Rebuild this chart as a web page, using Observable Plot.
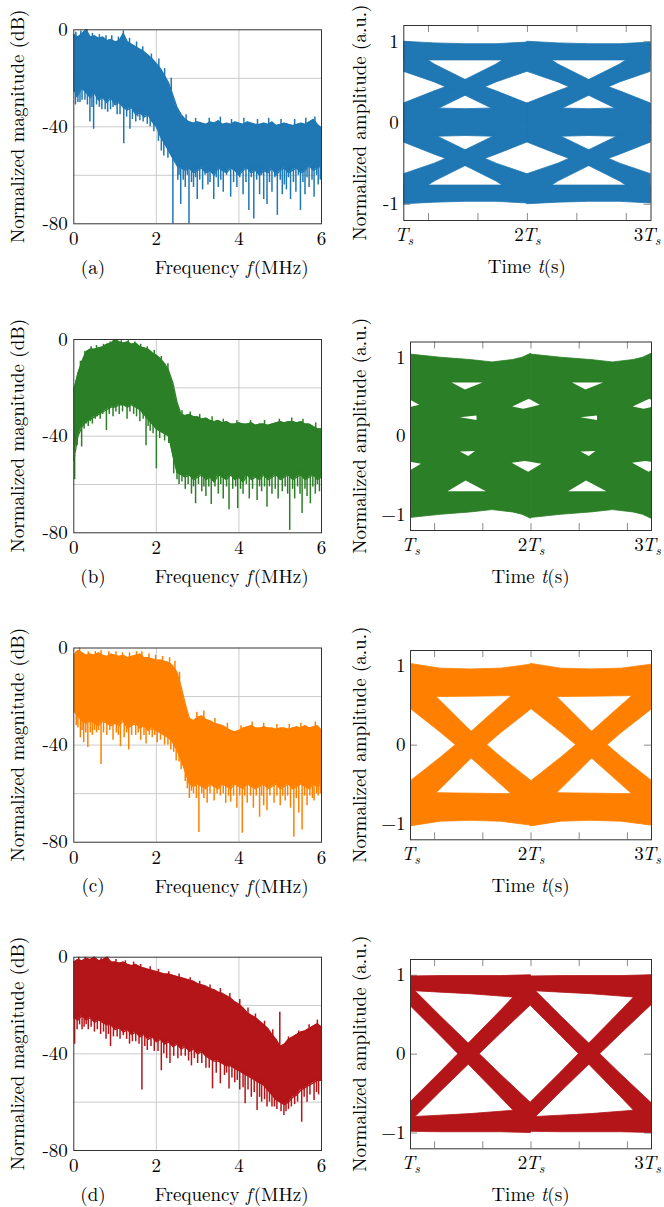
<!DOCTYPE html>
<html><head><meta charset="utf-8">
<script src="https://cdn.jsdelivr.net/npm/d3@7"></script>
<script src="https://cdn.jsdelivr.net/npm/@observablehq/plot@0.6"></script>
<style>
body{margin:0;background:#fff;}
#fig{position:relative;width:664px;height:1207px;overflow:hidden;background:#fff;}
#fig svg{position:absolute;left:0;top:0;}
#fig svg, #fig svg text, #fig svg tspan{font-family:"Latin Modern Roman","Liberation Serif",serif !important;}
</style></head><body><div id="fig"></div>
<script>
// ---------- tick values / labels ----------
const specXTicks = [0, 2, 4, 6];
const specYTicks = [0, -40, -80];
const specXGrid = [2, 4];
const specYGrid = [-20, -40, -60];
const eyeXTicks = [1, 2, 3];
const eyeXTickLabels = ["Ts", "2Ts", "3Ts"];
const eyeMinorTicks = [1.2, 1.6, 2, 2.4, 2.8];
const eyeYTicks = [-1, 0, 1];
const panelLabels = ["(a)", "(b)", "(c)", "(d)"];
const colors = ["#1f77b4", "#2b7f26", "#ff8000", "#b31518"];

// ---------- spectra (dB), frequency in MHz ----------
const freq = [0,0.1,0.2,0.3,0.4,0.5,0.6,0.7,0.8,0.9,1,1.1,1.2,1.3,1.4,1.5,1.6,1.7,1.8,1.9,2,2.1,2.2,2.3,2.4,2.5,2.6,2.7,2.8,2.9,3,3.1,3.2,3.3,3.4,3.5,3.6,3.7,3.8,3.9,4,4.1,4.2,4.3,4.4,4.5,4.6,4.7,4.8,4.9,5,5.1,5.2,5.3,5.4,5.5,5.6,5.7,5.8,5.9,6];

const topA = [-2,-3,-1.5,0,-3,-2.5,-3.5,-3,-4.5,-4,-5,-4.5,-1.5,-5,-6,-7,-8,-9,-10.5,-12,-14,-16,-19,-22,-27,-32,-35,-37,-38,-38.5,-38,-38.5,-39,-38,-38.5,-37.5,-39,-38.5,-39,-38,-38.5,-39,-38,-38.5,-39,-39,-38.5,-39,-38,-39.5,-39,-38.5,-39,-39.5,-39,-38.5,-39,-38,-37,-39,-40.5];
const botA = [-25,-27,-24,-26,-28,-26,-29,-28,-30,-28,-31,-30,-32,-33,-32,-35,-34,-36,-35,-38,-40,-44,-47,-50,-53,-56,-57,-58,-57,-59,-58,-57,-59,-58,-60,-57,-58,-59,-57,-58,-60,-58,-57,-59,-58,-60,-58,-59,-57,-60,-58,-57,-59,-58,-57,-59,-58,-56,-58,-57,-56];
const dipsA = [[0.04,-31],[0.07,-28],[0.1,-30],[0.15,-30],[0.2,-29],[0.27,-29],[0.33,-31],[0.39,-38],[0.44,-32],[0.48,-41],[0.55,-31],[0.62,-32],[0.68,-33],[0.76,-33],[0.82,-34],[0.89,-33],[0.95,-32],[1.05,-35],[1.12,-35],[1.21,-47],[1.28,-36],[1.36,-41],[1.42,-37],[1.5,-38],[1.55,-36],[1.6,-37.5],[1.68,-38],[1.78,-39],[1.85,-40],[1.94,-42],[2.05,-46],[2.12,-50],[2.18,-52],[2.28,-53],[2.4,-80],[2.52,-62],[2.55,-60],[2.59,-72],[2.65,-62],[2.7,-65],[2.75,-60],[2.79,-80],[2.85,-63],[2.9,-65],[2.95,-61],[2.99,-70],[3.05,-62],[3.12,-66],[3.18,-60],[3.25,-64],[3.3,-63],[3.39,-70],[3.45,-61],[3.5,-65],[3.56,-62],[3.62,-67],[3.7,-60],[3.8,-69],[3.87,-63],[3.95,-65],[4.02,-61],[4.1,-68],[4.17,-63],[4.24,-74.5],[4.3,-61],[4.36,-78],[4.43,-62],[4.5,-68],[4.55,-60],[4.6,-70],[4.68,-72],[4.74,-63],[4.8,-67],[4.87,-61],[4.93,-76.5],[5.0,-62],[5.05,-68],[5.1,-64],[5.15,-66],[5.2,-61],[5.25,-70],[5.32,-63],[5.38,-67],[5.44,-60],[5.49,-74.5],[5.55,-63],[5.6,-68],[5.65,-61],[5.7,-65],[5.77,-62],[5.82,-69],[5.88,-60],[5.92,-64],[5.97,-62]];
const peaksA = [[0.05,-1],[0.17,-0.5],[0.32,0],[0.45,-1.5],[0.62,-2],[0.78,-2.5],[0.92,-2.5],[1.08,-3],[1.2,-0.5],[1.35,-3.5],[1.52,-5],[1.67,-7],[1.88,-10],[2.06,-12],[2.2,-16],[2.36,-20],[2.72,-35],[2.95,-36.5],[3.28,-36.5],[3.55,-36],[3.82,-37],[4.12,-36.5],[4.45,-37],[4.72,-36.5],[5.02,-37],[5.35,-37],[5.62,-36.5],[5.84,-36]];

const topB = [-21,-14,-9,-5,-4,-4,-3.5,-3,-2,-1.5,0,-1,-1.5,-1,-2,-1.5,-3,-3.5,-4,-5.5,-6.5,-8,-10,-13,-18,-26,-31,-31.5,-31,-32,-32,-33,-32.5,-33.5,-34,-33.5,-34.5,-34,-35,-35,-34.5,-35,-35,-34.5,-35.5,-35,-35,-35.5,-35,-34.5,-34,-34.5,-34,-34,-34.5,-34,-35,-35,-36,-37,-37];
const botB = [-50,-40,-36,-34,-33,-32,-31,-30,-29,-28,-28,-27,-27,-28,-27,-28,-29,-31,-33,-35,-37,-38,-39,-40,-48,-55,-56,-57,-56,-58,-57,-56,-58,-57,-59,-56,-57,-58,-56,-58,-57,-59,-56,-58,-57,-58,-56,-58,-57,-56,-58,-57,-56,-58,-57,-56,-58,-57,-56,-58,-57];
const dipsB = [[0.02,-58],[0.08,-44],[0.12,-39],[0.19,-44.5],[0.25,-37],[0.3,-35],[0.35,-36],[0.4,-34],[0.45,-35],[0.52,-33],[0.57,-32],[0.64,-33],[0.7,-31],[0.79,-37.7],[0.86,-31],[0.95,-32],[1.02,-30],[1.1,-31],[1.18,-30],[1.29,-33],[1.36,-30],[1.45,-31],[1.52,-32],[1.6,-34],[1.68,-33],[1.75,-44],[1.8,-36],[1.85,-38],[1.92,-39],[2.0,-53.5],[2.08,-41],[2.2,-42],[2.3,-43],[2.42,-55.6],[2.5,-58],[2.55,-60],[2.62,-59],[2.7,-62],[2.77,-60],[2.85,-64],[2.9,-61],[2.95,-68],[3.02,-60],[3.1,-63],[3.15,-61],[3.2,-65],[3.27,-61],[3.33,-68.3],[3.42,-61],[3.5,-64],[3.56,-60],[3.62,-66],[3.7,-61],[3.76,-70.5],[3.85,-62],[3.92,-61],[3.97,-70],[4.04,-62],[4.1,-64],[4.18,-60],[4.25,-66],[4.33,-62],[4.44,-66.6],[4.5,-61],[4.55,-63],[4.62,-61],[4.68,-69.4],[4.74,-61],[4.8,-64],[4.88,-62],[4.95,-66],[5.05,-63],[5.12,-61],[5.18,-64],[5.23,-79],[5.3,-62],[5.35,-66],[5.42,-61],[5.48,-64],[5.53,-72],[5.6,-62],[5.65,-65],[5.73,-68],[5.79,-61],[5.85,-64],[5.9,-60],[5.95,-63]];
const peaksB = [[0.16,-9],[0.27,-5],[0.42,-3],[0.55,-2.5],[0.72,-2],[0.88,-1],[0.98,0],[1.15,-0.5],[1.32,-0.5],[1.48,-1],[1.62,-2],[1.78,-3],[1.95,-4.5],[2.12,-7],[2.28,-10],[2.62,-29.5],[2.82,-30],[3.05,-31],[3.35,-32],[3.62,-33],[3.95,-33.5],[4.28,-33.5],[4.62,-33.5],[4.98,-33],[5.28,-32.5],[5.55,-33],[5.86,-34.5]];

const topC = [-3,-1,-2,-3,-2.5,-3,-2,-3,-3.5,-2.5,-3,-3.5,-3,-4,-3.5,-3,-2.5,-4,-4,-4.5,-5,-5,-5.5,-6,-7.5,-10,-16,-23,-29,-30,-28.5,-28,-29.5,-30,-31,-31.5,-32,-33,-34,-34.5,-34,-33,-32.5,-32,-33,-33,-32.5,-33,-33,-33.5,-33,-33,-33.5,-33,-32.5,-33,-32,-33,-32.5,-32,-34];
const botC = [-26,-28,-30,-31,-30,-31,-32,-30,-31,-32,-31,-32,-30,-33,-32,-31,-33,-32,-34,-33,-34,-35,-36,-37,-39,-42,-46,-51,-56,-57,-56,-57,-58,-56,-57,-58,-56,-57,-58,-56,-57,-58,-56,-57,-58,-57,-56,-58,-57,-56,-58,-57,-56,-58,-57,-56,-57,-58,-56,-57,-56];
const dipsC = [[0.02,-26],[0.06,-32],[0.1,-33],[0.16,-37],[0.2,-34],[0.24,-39],[0.29,-35],[0.34,-41],[0.4,-35],[0.45,-36],[0.5,-34],[0.55,-35],[0.6,-34],[0.66,-48],[0.72,-35],[0.8,-36],[0.87,-34],[0.95,-38],[1.03,-35],[1.08,-36],[1.13,-40.6],[1.22,-37],[1.28,-35],[1.33,-42],[1.4,-36],[1.5,-36],[1.56,-35],[1.62,-38],[1.7,-36],[1.75,-39.5],[1.83,-36],[1.9,-37],[1.96,-36],[2.02,-39],[2.1,-38],[2.2,-40],[2.28,-40],[2.35,-42],[2.42,-43],[2.48,-46.5],[2.55,-47],[2.6,-50],[2.7,-55],[2.75,-58],[2.8,-62],[2.85,-59],[2.9,-60],[2.97,-62],[3.03,-76],[3.1,-60],[3.15,-62],[3.23,-64],[3.3,-60],[3.4,-63],[3.47,-60],[3.55,-61],[3.62,-60],[3.68,-64],[3.75,-61],[3.8,-63.5],[3.87,-61],[3.95,-66],[4.02,-61],[4.08,-76.3],[4.14,-61],[4.2,-64],[4.28,-61],[4.35,-66],[4.42,-61],[4.5,-69.7],[4.55,-61],[4.6,-65],[4.68,-67],[4.75,-61],[4.85,-64],[4.92,-61],[5.0,-65],[5.06,-61],[5.12,-63],[5.18,-61],[5.25,-66],[5.33,-78],[5.39,-62],[5.45,-68],[5.53,-75],[5.59,-61],[5.65,-65],[5.72,-61],[5.78,-62],[5.82,-63],[5.88,-60],[5.92,-61],[5.97,-60]];
const peaksC = [[0.06,-1.5],[0.14,0],[0.35,-1.5],[0.52,-1.5],[0.66,-1],[0.85,-1.5],[1.02,-1.5],[1.18,-2],[1.35,-2],[1.52,-1.5],[1.65,-1.5],[1.82,-2.5],[1.98,-3],[2.15,-3.5],[2.32,-4],[2.45,-5.5],[2.56,-10],[2.98,-26.5],[3.15,-26],[3.42,-29],[3.72,-31],[4.05,-32],[4.32,-30.5],[4.6,-31],[4.92,-31.5],[5.22,-31.5],[5.5,-31],[5.85,-30.5]];

const topD = [-2,-1,-1.5,-0.5,-1,0,-1.5,-1,0,-2,-2,-2.5,-2,-3,-3.5,-3,-4,-4.5,-5,-5.5,-6,-6.5,-7,-7,-7.5,-8,-8.5,-9,-9.5,-10,-11,-11.5,-12,-13,-13.5,-14.5,-15,-16,-17,-18.5,-19.5,-21,-23,-24,-25,-26.5,-28,-29.5,-32,-34,-37,-36,-34,-33,-32,-31,-30.5,-29.5,-28.5,-27.5,-29];
const botD = [-25,-26,-24,-26,-25,-27,-26,-27,-28,-28,-30,-29,-31,-30,-32,-31,-33,-32,-34,-33,-35,-34,-36,-35,-37,-36,-38,-37,-39,-38,-40,-39,-41,-42,-43,-43,-44,-45,-45,-46,-47,-48,-49,-50,-51,-52,-53,-55,-57,-59,-60,-61,-60,-58,-57,-55,-54,-53,-52,-51,-51];
const dipsD = [[0.02,-36],[0.08,-30],[0.14,-28],[0.2,-30],[0.25,-29],[0.3,-28],[0.35,-30],[0.42,-29],[0.5,-31],[0.57,-30],[0.65,-32],[0.72,-31],[0.78,-34],[0.84,-32],[0.89,-37],[0.96,-33],[1.05,-33],[1.12,-34],[1.2,-32.5],[1.28,-34],[1.35,-36],[1.42,-35],[1.5,-35],[1.58,-36],[1.65,-55],[1.72,-37],[1.78,-38.6],[1.87,-37],[1.95,-39],[2.04,-39],[2.12,-47],[2.18,-40],[2.25,-42],[2.33,-44],[2.42,-41],[2.52,-42],[2.6,-41],[2.7,-41],[2.78,-43],[2.85,-45],[2.92,-42],[3.0,-44],[3.1,-44],[3.2,-46],[3.28,-46],[3.36,-54.5],[3.45,-48],[3.55,-52.4],[3.65,-49],[3.7,-48],[3.76,-54.5],[3.83,-50],[3.9,-52],[3.96,-51],[4.02,-55],[4.1,-54],[4.15,-60.7],[4.22,-55],[4.3,-58],[4.37,-56],[4.44,-63.4],[4.5,-58],[4.55,-60],[4.62,-59],[4.68,-62],[4.74,-60],[4.8,-62],[4.86,-62],[4.92,-63],[5.02,-64],[5.09,-65.5],[5.14,-64],[5.2,-63],[5.27,-62],[5.35,-61],[5.42,-60],[5.52,-68.3],[5.58,-58],[5.65,-60],[5.72,-57],[5.82,-59.3],[5.88,-56],[5.93,-57]];
const peaksD = [[0.12,0],[0.28,0],[0.48,0],[0.66,-0.5],[0.82,0],[1.02,-1],[1.25,-1.5],[1.45,-2],[1.62,-3],[1.85,-4],[2.05,-5],[2.3,-6],[2.55,-7],[2.82,-8.5],[3.05,-10],[3.3,-11.5],[3.55,-13],[3.78,-15],[4.02,-17.5],[4.22,-21],[4.4,-23.5],[4.62,-26.5],[4.82,-30],[4.99,-22.8],[5.2,-33],[5.45,-30.5],[5.7,-28],[5.9,-26]];

// ---------- eye diagrams (amplitude edges, u = fraction of symbol period) ----------
const eyeU = [0, 0.25, 0.5, 0.75, 1];
// (a) three-level eye
const aTopHi = [1.00, 0.98, 0.97, 0.97, 0.99], aTopLo = [0.77, 0.77, 0.77, 0.77, 0.77];
const aRiseHi = [0.24, 0.39, 0.53, 0.72, 0.97], aRiseLo = [-0.02, 0.15, 0.335, 0.50, 0.63];
const aMidHi = [0.24, 0.18, 0.17, 0.18, 0.23], aMidLo = [-0.23, -0.17, -0.16, -0.17, -0.22];
// (c) binary eye
const cTopHi = [1.03, 0.97, 0.96, 0.97, 1.02], cTopLo = [0.61, 0.61, 0.615, 0.62, 0.625];
const cRiseHi = [-0.46, -0.16, 0.16, 0.50, 0.84], cRiseLo = [-0.92, -0.56, -0.18, 0.15, 0.45];
// (d) binary eye
const dTopHi = [0.985, 0.99, 0.99, 0.99, 1.0], dTopLo = [0.80, 0.78, 0.76, 0.73, 0.70];
const dRiseHi = [-0.61, -0.23, 0.16, 0.55, 0.95], dRiseLo = [-0.86, -0.48, -0.11, 0.26, 0.62];
// (b) closed multi-level eye: envelope and openings
const bEnvU = [0, 0.25, 0.5, 0.68, 0.85, 0.93, 1];
const bEnvHi = [1.04, 1.0, 0.97, 0.94, 0.97, 1.0, 1.05];
const bEnvLo = [-1.04, -1.0, -0.97, -0.94, -0.97, -1.0, -1.05];
const bOpenings = [
  {u:[0.345,0.456,0.602], lo:[0.677,0.59,0.677], hi:[0.677,0.677,0.677], at:[1,2]},
  {u:[0.414,0.552], lo:[0.236,0.20], hi:[0.236,0.257], at:[1,2]},
  {u:[0.414,0.483,0.539], lo:[-0.2,-0.257,-0.193], hi:[-0.2,-0.197,-0.193], at:[1,2]},
  {u:[0.312,0.461,0.63], lo:[-0.707,-0.707,-0.707], hi:[-0.707,-0.57,-0.707], at:[1,2]},
  {u:[-0.152,-0.06,-0.014,0.077], lo:[0.373,0.343,0.36,0.394], hi:[0.373,0.438,0.471,0.394], at:[1,2,3]},
  {u:[-0.157,-0.047,-0.019,0.091], lo:[-0.343,-0.435,-0.458,-0.355], hi:[-0.343,-0.321,-0.327,-0.355], at:[1,2,3]}
];

// ---------- layout ----------
const W = 664, H = 1207;
const FONT = "\"Latin Modern Roman\",\"Liberation Serif\",serif";
const FS = 19;
const leftFrames = [
  {x0:73.3, x1:321, y0:29.3, y1:223.3},
  {x0:73.3, x1:321, y0:339, y1:532.3},
  {x0:73.3, x1:321, y0:647.5, y1:841.7},
  {x0:73.3, x1:321, y0:956.7, y1:1150}
];
const rightFrames = [
  {x0:403.3, x1:650.5, y0:25, y1:220},
  {x0:410, x1:651, y0:341.5, y1:530},
  {x0:410, x1:651, y0:650, y1:839.3},
  {x0:410, x1:651, y0:959, y1:1148.3}
];

const fig = document.getElementById("fig");
const baseStyle = {background:"none", fontFamily:FONT, fontSize:FS+"px", color:"#000", overflow:"visible"};

function spectrum(F, color, top, bot, dips, peaks) {
  const data = freq.map((f, i) => ({f, top: top[i], bot: bot[i]}));
  const dd = dips.map(([f, d]) => ({f, from: bot[Math.round(f * 10)] + 2, to: d}));
  const pp = peaks.map(([f, d]) => ({f, from: top[Math.round(f * 10)] - 2, to: d}));
  return Plot.plot({
    width: W, height: H,
    marginLeft: F.x0, marginRight: W - F.x1, marginTop: F.y0, marginBottom: H - F.y1,
    style: baseStyle,
    x: {domain: [0, 6], ticks: specXTicks, tickSize: 0, tickPadding: 8, label: null, tickFormat: d => String(d)},
    y: {domain: [-80, 0], ticks: specYTicks, tickSize: 0, tickPadding: 6, label: null, tickFormat: d => String(d)},
    marks: [
      Plot.ruleX(specXGrid, {stroke: "#cccccc", strokeWidth: 1}),
      Plot.ruleY(specYGrid, {stroke: "#cccccc", strokeWidth: 1}),
      Plot.areaY(data, {x: "f", y1: "bot", y2: "top", fill: color}),
      Plot.line(data, {x: "f", y: "top", stroke: color, strokeWidth: 1.3}),
      Plot.line(data, {x: "f", y: "bot", stroke: color, strokeWidth: 1.3}),
      Plot.ruleX(dd, {x: "f", y1: "from", y2: "to", stroke: color, strokeWidth: 1.5}),
      Plot.ruleX(pp, {x: "f", y1: "from", y2: "to", stroke: color, strokeWidth: 1.5}),
      Plot.frame({stroke: "#333", strokeWidth: 1})
    ]
  });
}

function timeMirror(b) { return {u: b.u, lo: b.lo.slice().reverse(), hi: b.hi.slice().reverse(), at: b.at}; }
function vertMirror(b) { return {u: b.u, lo: b.hi.map(v => -v), hi: b.lo.map(v => -v), at: b.at}; }
function band(hi, lo) { return {u: eyeU, hi, lo, at: [1, 2]}; }

function toRows(bands) {
  const rows = [];
  bands.forEach((b, bi) => b.at.forEach(k => b.u.forEach((u, j) =>
    rows.push({id: bi + "-" + k, t: k + u, lo: b.lo[j], hi: b.hi[j]}))));
  return rows;
}

function eye(F, color, bands, openings, hyphen) {
  const fw = F.x1 - F.x0, fh = F.y1 - F.y0, tl = 7;
  const fmtY = d => (d < 0 ? (hyphen ? "-" : "\u2212") + Math.abs(d) : String(d));
  return Plot.plot({
    width: W, height: H,
    marginLeft: F.x0, marginRight: W - F.x1, marginTop: F.y0, marginBottom: H - F.y1,
    style: baseStyle,
    x: {domain: [1, 3], ticks: eyeXTicks, tickSize: 0, tickPadding: 7, label: null,
        tickFormat: d => eyeXTickLabels[eyeXTicks.indexOf(d)]},
    y: {domain: [-1.2, 1.2], ticks: eyeYTicks, tickSize: 0, tickPadding: 5, label: null, tickFormat: fmtY},
    marks: [
      Plot.tickX(eyeMinorTicks, {x: d => d, insetBottom: fh - tl, stroke: "#8a8a8a"}),
      Plot.tickX(eyeMinorTicks, {x: d => d, insetTop: fh - tl, stroke: "#8a8a8a"}),
      Plot.tickY(eyeYTicks, {y: d => d, insetRight: fw - tl, stroke: "#8a8a8a"}),
      Plot.tickY(eyeYTicks, {y: d => d, insetLeft: fw - tl, stroke: "#8a8a8a"}),
      Plot.areaY(toRows(bands), {x: "t", y1: "lo", y2: "hi", z: "id", fill: color, stroke: color, strokeWidth: 0.8, clip: true}),
      Plot.areaY(toRows(openings || []), {x: "t", y1: "lo", y2: "hi", z: "id", fill: "#fff", clip: true}),
      Plot.frame({stroke: "#333", strokeWidth: 1})
    ]
  });
}

function styleTimeTicks(svg) {
  svg.querySelectorAll("text").forEach(t => {
    const s = t.textContent;
    const m = /^(\d?)Ts$/.exec(s);
    if (!m) return;
    while (t.firstChild) t.removeChild(t.firstChild);
    const sel = d3.select(t);
    const shift = m[1] === "3" ? -4 : 0;
    if (m[1]) sel.append("tspan").attr("dx", shift).text(m[1]);
    sel.append("tspan").attr("font-style", "italic").attr("dx", m[1] ? -1.5 : 0).text("T");
    sel.append("tspan").attr("font-style", "italic").attr("font-size", "13px").attr("dx", -0.5).attr("dy", "0.3em").text("s");
  });
}

// build bands
const aTop = band(aTopHi, aTopLo), aRise = band(aRiseHi, aRiseLo), aMid = band(aMidHi, aMidLo);
const eyeBandsA = [aTop, vertMirror(aTop), aMid, aRise, timeMirror(aRise), vertMirror(aRise), vertMirror(timeMirror(aRise))];
const cTop = band(cTopHi, cTopLo), cRise = band(cRiseHi, cRiseLo);
const eyeBandsC = [cTop, vertMirror(cTop), cRise, vertMirror(cRise)];
const dTop = band(dTopHi, dTopLo), dRise = band(dRiseHi, dRiseLo);
const eyeBandsD = [dTop, vertMirror(dTop), dRise, vertMirror(dRise)];
const eyeBandsB = [{u: bEnvU, hi: bEnvHi, lo: bEnvLo, at: [1, 2]}];

const spectra = [[topA, botA, dipsA, peaksA], [topB, botB, dipsB, peaksB], [topC, botC, dipsC, peaksC], [topD, botD, dipsD, peaksD]];
const eyes = [[eyeBandsA, null, true], [eyeBandsB, bOpenings, false], [eyeBandsC, null, false], [eyeBandsD, null, false]];

for (let r = 0; r < 4; r++) {
  const [tp, bt, dp, pk] = spectra[r];
  fig.appendChild(spectrum(leftFrames[r], colors[r], tp, bt, dp, pk));
  const [bands, opens, hy] = eyes[r];
  const e = eye(rightFrames[r], colors[r], bands, opens, hy);
  styleTimeTicks(e);
  fig.appendChild(e);
}

// axis titles
const ov = d3.create("svg").attr("width", W).attr("height", H)
  .style("font-family", FONT).style("font-size", FS + "px").style("overflow", "visible");
for (let r = 0; r < 4; r++) {
  const L = leftFrames[r], R = rightFrames[r];
  ov.append("text").attr("transform", `translate(16.7,${(L.y0 + L.y1) / 2}) rotate(-90)`)
    .attr("text-anchor", "middle").attr("dominant-baseline", "central").text("Normalized magnitude (dB)");
  ov.append("text").attr("x", 93).attr("y", L.y1 + 43).attr("text-anchor", "middle")
    .attr("dominant-baseline", "central").text(panelLabels[r]);
  const fl = ov.append("text").attr("x", 231.7).attr("y", L.y1 + 43).attr("text-anchor", "middle")
    .attr("dominant-baseline", "central");
  fl.append("tspan").text("Frequency ");
  fl.append("tspan").attr("font-style", "italic").text("f");
  fl.append("tspan").attr("dx", 2).text("(MHz)");
  ov.append("text").attr("transform", `translate(358,${(R.y0 + R.y1) / 2}) rotate(-90)`)
    .attr("text-anchor", "middle").attr("dominant-baseline", "central").text("Normalized amplitude (a.u.)");
  const tl = ov.append("text").attr("x", (R.x0 + R.x1) / 2).attr("y", R.y1 + 45).attr("text-anchor", "middle")
    .attr("dominant-baseline", "central");
  tl.append("tspan").text("Time ");
  tl.append("tspan").attr("font-style", "italic").text("t");
  tl.append("tspan").text("(s)");
}
fig.appendChild(ov.node());
</script></body></html>
